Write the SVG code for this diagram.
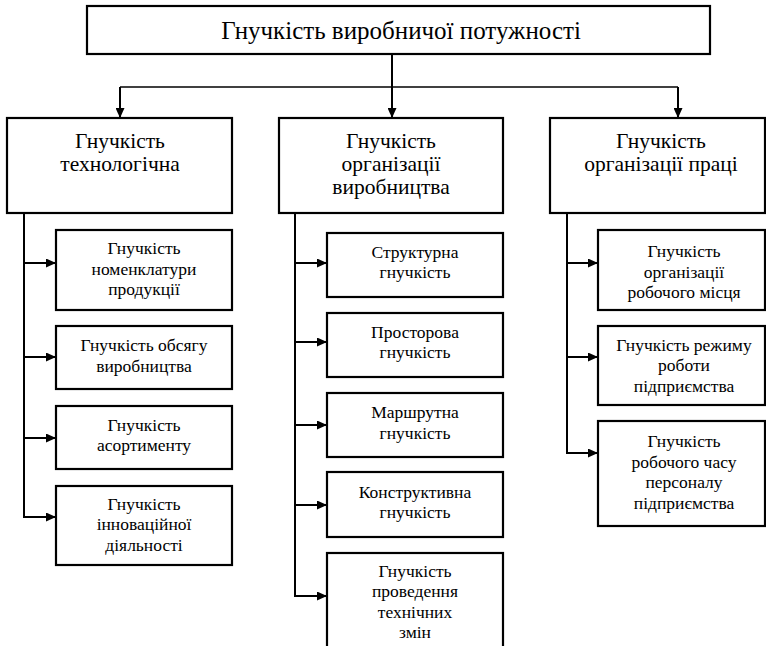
<svg xmlns="http://www.w3.org/2000/svg" width="766" height="646" viewBox="0 0 766 646">
  <style>
    .box { fill: #ffffff; stroke: #000000; stroke-width: 2.2; }
    .ln { fill: none; stroke: #000000; stroke-width: 2; }
    .thin { fill: none; stroke: #000000; stroke-width: 1.6; }
    .lbl text { fill: #000000; text-anchor: middle; font-weight: normal; }
    .t0 { font-size: 25px; }
    .t1 { font-size: 21.5px; }
    .t2 { font-size: 17.5px; }
  </style>
  <defs>
    <marker id="arrow" markerUnits="userSpaceOnUse" markerWidth="10" markerHeight="9" refX="10" refY="4.5" orient="auto">
      <path d="M0,0 L10,4.5 L0,9 Z" fill="#000000"/>
    </marker>
  </defs>
  <rect width="766" height="646" fill="#ffffff"/>

  <!-- connectors -->
  <g id="connectors">
    <path class="ln" d="M392,54 V87"/>
    <path class="thin" d="M120,87 H678"/>
    <path class="ln" d="M120,87 V118" marker-end="url(#arrow)"/>
    <path class="ln" d="M392,87 V118" marker-end="url(#arrow)"/>
    <path class="ln" d="M678,87 V118" marker-end="url(#arrow)"/>

    <!-- left column -->
    <path class="ln" d="M24,213 V517"/>
    <path class="ln" d="M23,263 H56" marker-end="url(#arrow)"/>
    <path class="ln" d="M23,357 H56" marker-end="url(#arrow)"/>
    <path class="ln" d="M23,438 H56" marker-end="url(#arrow)"/>
    <path class="ln" d="M23,517 H56" marker-end="url(#arrow)"/>

    <!-- middle column -->
    <path class="ln" d="M295,213 V596"/>
    <path class="ln" d="M294,263 H327" marker-end="url(#arrow)"/>
    <path class="ln" d="M294,342 H327" marker-end="url(#arrow)"/>
    <path class="ln" d="M294,425 H327" marker-end="url(#arrow)"/>
    <path class="ln" d="M294,505 H327" marker-end="url(#arrow)"/>
    <path class="ln" d="M294,596 H327" marker-end="url(#arrow)"/>

    <!-- right column -->
    <path class="ln" d="M567,213 V453"/>
    <path class="ln" d="M566,263 H598" marker-end="url(#arrow)"/>
    <path class="ln" d="M566,357 H598" marker-end="url(#arrow)"/>
    <path class="ln" d="M566,453 H598" marker-end="url(#arrow)"/>
  </g>

  <g class="lbl" font-family="Tinos, FreeSerif, 'DejaVu Serif', serif">
  <!-- root -->
  <g id="root">
    <rect class="box" x="87" y="6" width="623" height="48"/>
    <text class="t0" x="401" y="39">Гнучкість виробничої потужності</text>
  </g>

  <!-- second level -->
  <g id="tech">
    <rect class="box" x="7" y="118" width="225" height="95"/>
    <text class="t1" x="120" y="148">Гнучкість</text>
    <text class="t1" x="120" y="171">технологічна</text>
  </g>
  <g id="prod-org">
    <rect class="box" x="279" y="118" width="224" height="95"/>
    <text class="t1" x="391" y="148">Гнучкість</text>
    <text class="t1" x="391" y="171">організації</text>
    <text class="t1" x="391" y="194">виробництва</text>
  </g>
  <g id="labour-org">
    <rect class="box" x="550" y="118" width="215" height="95"/>
    <text class="t1" x="661" y="148">Гнучкість</text>
    <text class="t1" x="661" y="171">організації праці</text>
  </g>

  <!-- technological flexibility -->
  <g id="nomenclature">
    <rect class="box" x="56" y="230" width="176" height="80"/>
    <text class="t2" x="144" y="254">Гнучкість</text>
    <text class="t2" x="144" y="274.5">номенклатури</text>
    <text class="t2" x="144" y="295">продукції</text>
  </g>
  <g id="volume">
    <rect class="box" x="56" y="326" width="176" height="63"/>
    <text class="t2" x="144" y="351">Гнучкість обсягу</text>
    <text class="t2" x="144" y="371.5">виробництва</text>
  </g>
  <g id="assortment">
    <rect class="box" x="56" y="406" width="176" height="63"/>
    <text class="t2" x="144" y="430.5">Гнучкість</text>
    <text class="t2" x="144" y="451">асортименту</text>
  </g>
  <g id="innovation">
    <rect class="box" x="56" y="486" width="176" height="79"/>
    <text class="t2" x="144" y="509.5">Гнучкість</text>
    <text class="t2" x="144" y="530">інноваційної</text>
    <text class="t2" x="144" y="550.5">діяльності</text>
  </g>

  <!-- production organisation flexibility -->
  <g id="structural">
    <rect class="box" x="327" y="233" width="176" height="64"/>
    <text class="t2" x="415" y="257.5">Структурна</text>
    <text class="t2" x="415" y="278">гнучкість</text>
  </g>
  <g id="spatial">
    <rect class="box" x="327" y="313" width="176" height="64"/>
    <text class="t2" x="415" y="337.5">Просторова</text>
    <text class="t2" x="415" y="358">гнучкість</text>
  </g>
  <g id="routing">
    <rect class="box" x="327" y="393" width="176" height="64"/>
    <text class="t2" x="415" y="418">Маршрутна</text>
    <text class="t2" x="415" y="438.5">гнучкість</text>
  </g>
  <g id="design">
    <rect class="box" x="327" y="472" width="176" height="65"/>
    <text class="t2" x="415" y="497.5">Конструктивна</text>
    <text class="t2" x="415" y="518">гнучкість</text>
  </g>
  <g id="tech-changes">
    <rect class="box" x="327" y="553" width="176" height="100"/>
    <text class="t2" x="415" y="576.5">Гнучкість</text>
    <text class="t2" x="415" y="597">проведення</text>
    <text class="t2" x="415" y="617.5">технічних</text>
    <text class="t2" x="415" y="638">змін</text>
  </g>

  <!-- labour organisation flexibility -->
  <g id="workplace">
    <rect class="box" x="598" y="230" width="167" height="80"/>
    <text class="t2" x="684" y="257">Гнучкість</text>
    <text class="t2" x="684" y="277.5">організації</text>
    <text class="t2" x="684" y="298">робочого місця</text>
  </g>
  <g id="work-mode">
    <rect class="box" x="598" y="326" width="167" height="79"/>
    <text class="t2" x="684" y="350.5">Гнучкість режиму</text>
    <text class="t2" x="684" y="371">роботи</text>
    <text class="t2" x="684" y="391.5">підприємства</text>
  </g>
  <g id="work-time">
    <rect class="box" x="598" y="421" width="167" height="105"/>
    <text class="t2" x="684" y="447">Гнучкість</text>
    <text class="t2" x="684" y="467.5">робочого часу</text>
    <text class="t2" x="684" y="488">персоналу</text>
    <text class="t2" x="684" y="508.5">підприємства</text>
  </g>
  </g>
</svg>
